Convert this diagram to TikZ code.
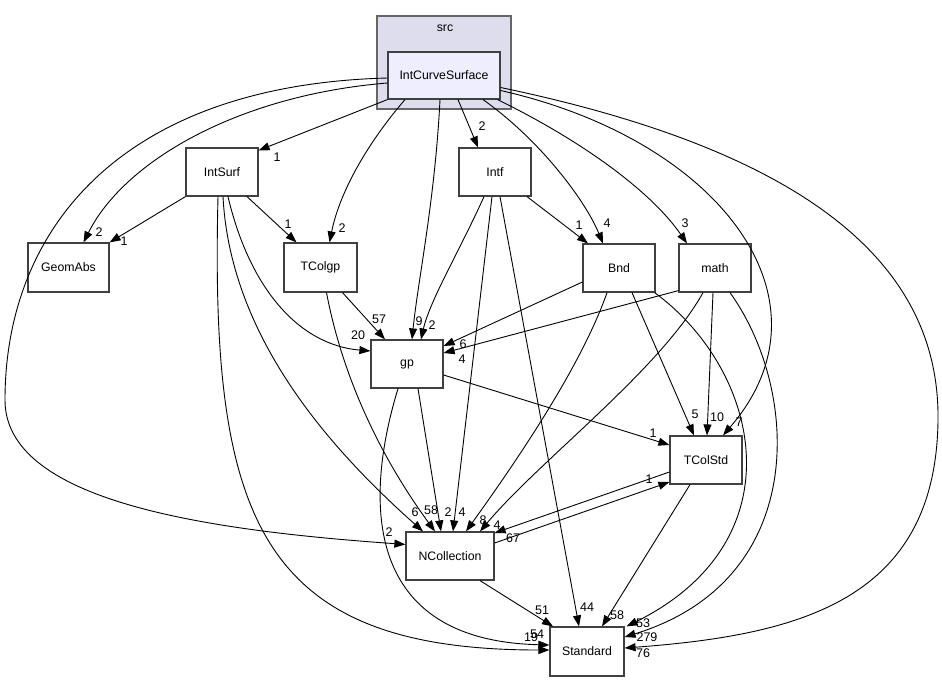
\documentclass[tikz,border=0pt]{standalone}
\usepackage{fontspec}
\setmainfont{Liberation Sans}
\usetikzlibrary{arrows.meta}
\definecolor{clfill}{HTML}{DDDDEE}
\definecolor{icsfill}{HTML}{EEEEFF}
\definecolor{bord}{HTML}{404040}
\begin{document}
\begin{tikzpicture}[x=1pt,y=-1pt,
  box/.style={draw=bord,line width=1.2pt,fill=white,minimum width=72pt,minimum height=48pt,inner sep=0pt,font=\fontsize{12.3}{14}\selectfont},
  dep/.style={draw=black,line width=0.9pt,-{Triangle[length=11pt,width=8pt]}},
  lbl/.style={inner sep=0pt,font=\fontsize{12.5}{14}\selectfont}]
\useasboundingbox (0,0) rectangle (942,681);
% cluster
\node[draw=bord!80,line width=1.2pt,fill=clfill,minimum width=134pt,minimum height=93pt,inner sep=0pt] (cl) at (444,62.5) {};
\node[inner sep=0pt,font=\fontsize{12.3}{14}\selectfont] (srclbl) at (445,28) {src};
\node[box,fill=icsfill,minimum width=112pt,minimum height=47pt] (ICS) at (444,75.5) {IntCurveSurface};
% nodes
\node[box] (IntSurf) at (222,172) {IntSurf};
\node[box,minimum width=81pt,minimum height=49pt] (GeomAbs) at (68.5,267.5) {GeomAbs};
\node[box,minimum width=73pt,minimum height=49pt] (TColgp) at (320.5,267.5) {TColgp};
\node[box] (Intf) at (495,172) {Intf};
\node[box] (Bnd) at (619,268) {Bnd};
\node[box] (math) at (715,268) {math};
\node[box] (gp) at (407,364) {gp};
\node[box] (TColStd) at (706,460) {TColStd};
\node[box,minimum width=88pt] (NColl) at (450,556) {NCollection};
\node[box,minimum width=74pt,minimum height=49pt] (Std) at (587,651.5) {Standard};
% edges from IntCurveSurface
\draw[dep] (ICS.south west) -- ([yshift=-3pt]IntSurf.north east);
\draw[dep] ([yshift=-7.5pt]ICS.west) .. controls (240,95) and (125,160) .. ([xshift=15pt]GeomAbs.north);
\draw[dep] ([yshift=-2.5pt]ICS.west) .. controls (120,85) and (5,230) .. (5,400) .. controls (5,500) and (200,530) .. ([yshift=-13pt]NColl.north west);
\draw[dep] ([xshift=-39pt]ICS.south) .. controls (370,140) and (340,190) .. ([xshift=9pt]TColgp.north);
\draw[dep] ([xshift=-4pt]ICS.south) .. controls (435,200) and (418,280) .. ([xshift=5pt]gp.north);
\draw[dep] ([xshift=14pt]ICS.south) -- ([xshift=-17pt]Intf.north);
\draw[dep] ([xshift=39pt]ICS.south) .. controls (540,140) and (585,200) .. ([xshift=-16pt]Bnd.north);
\draw[dep] ([xshift=-3pt]ICS.south east) .. controls (580,140) and (650,190) .. ([xshift=-28pt]math.north);
\draw[dep] ([yshift=-15pt]ICS.east) .. controls (720,140) and (840,300) .. ([xshift=17pt]TColStd.north);
\draw[dep] ([yshift=-12pt]ICS.east) .. controls (800,150) and (940,260) .. (938,420) .. controls (936,600) and (800,635) .. ([yshift=3.5pt]Std.east);
% IntSurf
\draw[dep] (IntSurf.south west) -- (GeomAbs.north east);
\draw[dep] ([xshift=25pt]IntSurf.south) -- ([xshift=-24pt]TColgp.north);
\draw[dep] ([xshift=6pt]IntSurf.south) .. controls (250,290) and (300,345) .. ([yshift=13pt]gp.west);
\draw[dep] ([xshift=1pt]IntSurf.south) .. controls (230,330) and (320,440) .. ([xshift=-27pt]NColl.north);
\draw[dep] ([xshift=-4pt]IntSurf.south) .. controls (210,520) and (260,650) .. ([yshift=1.5pt]Std.west);
% TColgp
\draw[dep] ([xshift=22pt]TColgp.south) -- ([xshift=-22pt]gp.north);
\draw[dep] ([xshift=6pt]TColgp.south) .. controls (345,390) and (390,470) .. ([xshift=-15pt]NColl.north);
% Intf
\draw[dep] ([xshift=32pt]Intf.south) -- ([xshift=-31pt]Bnd.north);
\draw[dep] ([xshift=-11pt]Intf.south) .. controls (460,250) and (430,300) .. ([xshift=14pt]gp.north);
\draw[dep] ([xshift=-3pt]Intf.south) -- ([xshift=3pt]NColl.north);
\draw[dep] ([xshift=5pt]Intf.south) -- ([xshift=-8pt]Std.north);
% Bnd
\draw[dep] ([yshift=-14pt]Bnd.west) -- ([yshift=18pt]gp.east);
\draw[dep] ([xshift=-12pt]Bnd.south) .. controls (580,370) and (510,470) .. ([xshift=16pt]NColl.north);
\draw[dep] ([xshift=13pt]Bnd.south) -- ([xshift=-12pt]TColStd.north);
\draw[dep] ([xshift=-1pt]Bnd.south east) .. controls (760,370) and (800,540) .. ([xshift=2pt]Std.north east);
% math
\draw[dep] ([yshift=2pt]math.south west) -- ([yshift=11pt]gp.east);
\draw[dep] ([xshift=-12pt]math.south) .. controls (660,370) and (540,460) .. ([xshift=30pt]NColl.north);
\draw[dep] ([xshift=-2pt]math.south) -- ([xshift=1pt]TColStd.north);
\draw[dep] ([xshift=15pt]math.south) .. controls (800,390) and (810,580) .. ([yshift=14.5pt]Std.east);
% gp
\draw[dep] ([yshift=-11pt]gp.east) -- ([yshift=15pt]TColStd.west);
\draw[dep] ([xshift=11pt]gp.south) -- ([xshift=-9pt]NColl.north);
\draw[dep] ([xshift=-9pt]gp.south) .. controls (370,480) and (350,640) .. ([yshift=6.5pt]Std.west);
% TColStd
\draw[dep] ([yshift=-12pt]TColStd.west) -- ([yshift=23pt]NColl.east);
\draw[dep] ([xshift=-16pt]TColStd.south) -- ([xshift=15pt]Std.north);
% NCollection
\draw[dep] ([yshift=13pt]NColl.east) -- ([yshift=-22pt]TColStd.west);
\draw[dep] ([xshift=30pt]NColl.south) -- ([xshift=-34pt]Std.north);
% labels
\node[lbl] (t1) at (277,157) {1};
\node[lbl] (t2) at (99,232) {2};
\node[lbl] (t3) at (389,532) {2};
\node[lbl] (t4) at (342,228) {2};
\node[lbl] (t5) at (419,321) {9};
\node[lbl] (t6) at (482,126) {2};
\node[lbl] (t7) at (607,223) {4};
\node[lbl] (t8) at (685,223) {3};
\node[lbl] (t9) at (739,422) {7};
\node[lbl] (t10) at (643,653) {76};
\node[lbl] (t11) at (124,241) {1};
\node[lbl] (t12) at (288,224) {1};
\node[lbl] (t13) at (358,335) {20};
\node[lbl] (t14) at (415,512) {6};
\node[lbl] (t15) at (531,637) {19};
\node[lbl] (t16) at (379,319) {57};
\node[lbl] (t17) at (431,510) {58};
\node[lbl] (t18) at (579,225) {1};
\node[lbl] (t19) at (432,325) {2};
\node[lbl] (t20) at (462,512) {4};
\node[lbl] (t21) at (587,607) {44};
\node[lbl] (t22) at (463,344) {6};
\node[lbl] (t23) at (483,520) {8};
\node[lbl] (t24) at (695,414) {5};
\node[lbl] (t25) at (643,623) {53};
\node[lbl] (t26) at (462,359) {4};
\node[lbl] (t27) at (497,525) {4};
\node[lbl] (t28) at (717,417) {10};
\node[lbl] (t29) at (647,637) {279};
\node[lbl] (t30) at (653,433) {1};
\node[lbl] (t31) at (448,512) {2};
\node[lbl] (t32) at (537,634) {54};
\node[lbl] (t33) at (513,538) {67};
\node[lbl] (t34) at (617,615) {58};
\node[lbl] (t35) at (649,479) {1};
\node[lbl] (t36) at (542,610) {51};
\end{tikzpicture}
\end{document}
